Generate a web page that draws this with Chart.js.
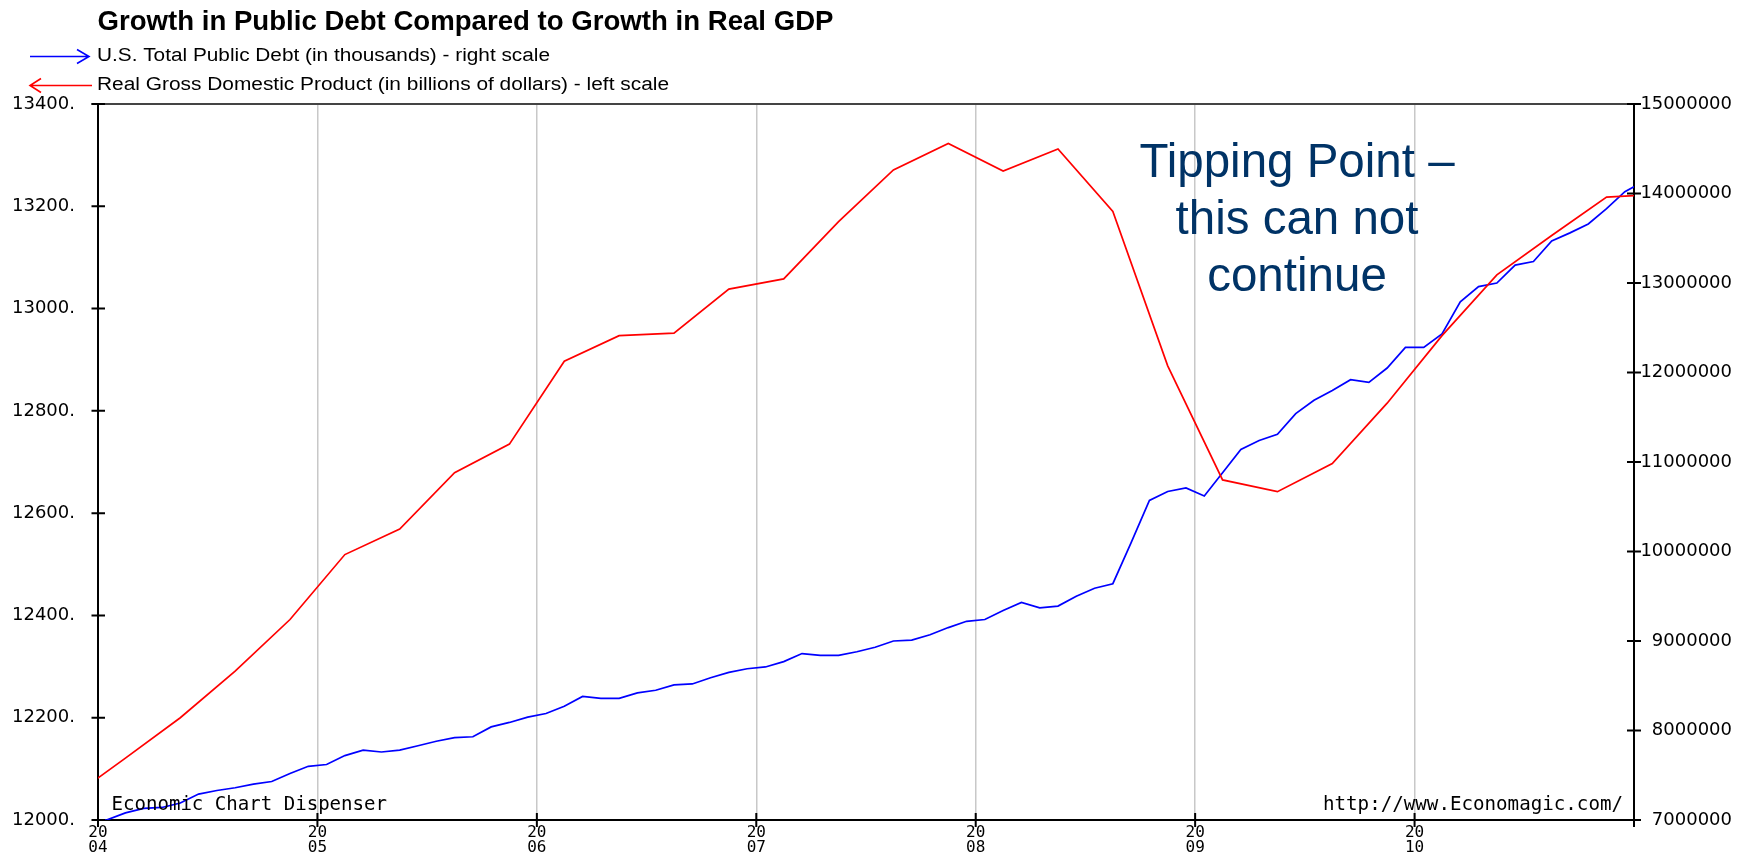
<!DOCTYPE html>
<html>
<head>
<meta charset="utf-8">
<title>Growth in Public Debt Compared to Growth in Real GDP</title>
<script src="https://cdn.jsdelivr.net/npm/chart.js@4.4.1/dist/chart.umd.min.js"></script>
<style>
  html, body { margin: 0; padding: 0; background: #fff; overflow: hidden; }
  canvas { display: block; }
</style>
</head>
<body>
<canvas id="chart" width="1744" height="863"></canvas>
<script>
// Year ticks along the bottom axis
const yearTicks = [2004, 2005, 2006, 2007, 2008, 2009, 2010, 2011];

// Real GDP, billions of chained dollars, quarterly (left scale)
const gdpQuarters = [
  '2003Q4',
  '2004Q1', '2004Q2', '2004Q3', '2004Q4',
  '2005Q1', '2005Q2', '2005Q3', '2005Q4',
  '2006Q1', '2006Q2', '2006Q3', '2006Q4',
  '2007Q1', '2007Q2', '2007Q3', '2007Q4',
  '2008Q1', '2008Q2', '2008Q3', '2008Q4',
  '2009Q1', '2009Q2', '2009Q3', '2009Q4',
  '2010Q1', '2010Q2', '2010Q3', '2010Q4',
  '2011Q1'
];
const gdpValues = [
  12043,
  12121, 12200, 12291, 12392,
  12519, 12569, 12679, 12735,
  12897, 12947, 12952, 13038,
  13058, 13170, 13271, 13323,
  13269, 13312, 13190, 12888,
  12665, 12642, 12697, 12815,
  12947, 13066, 13143, 13218,
  13224
];

// U.S. total public debt outstanding, thousands of dollars, monthly (right scale)
const debtMonths = [
  '2003-12',
  '2004-01', '2004-02', '2004-03', '2004-04', '2004-05', '2004-06', '2004-07', '2004-08', '2004-09', '2004-10', '2004-11', '2004-12',
  '2005-01', '2005-02', '2005-03', '2005-04', '2005-05', '2005-06', '2005-07', '2005-08', '2005-09', '2005-10', '2005-11', '2005-12',
  '2006-01', '2006-02', '2006-03', '2006-04', '2006-05', '2006-06', '2006-07', '2006-08', '2006-09', '2006-10', '2006-11', '2006-12',
  '2007-01', '2007-02', '2007-03', '2007-04', '2007-05', '2007-06', '2007-07', '2007-08', '2007-09', '2007-10', '2007-11', '2007-12',
  '2008-01', '2008-02', '2008-03', '2008-04', '2008-05', '2008-06', '2008-07', '2008-08', '2008-09', '2008-10', '2008-11', '2008-12',
  '2009-01', '2009-02', '2009-03', '2009-04', '2009-05', '2009-06', '2009-07', '2009-08', '2009-09', '2009-10', '2009-11', '2009-12',
  '2010-01', '2010-02', '2010-03', '2010-04', '2010-05', '2010-06', '2010-07', '2010-08', '2010-09', '2010-10', '2010-11', '2010-12',
  '2011-01'
];
const debtValues = [
  6990000,
  7002000, 7080000, 7130000, 7140000, 7190000, 7290000, 7330000, 7360000, 7400000, 7430000, 7520000, 7600000,
  7620000, 7720000, 7780000, 7760000, 7780000, 7830000, 7880000, 7920000, 7930000, 8040000, 8090000, 8150000,
  8190000, 8270000, 8380000, 8360000, 8360000, 8420000, 8450000, 8510000, 8520000, 8590000, 8650000, 8690000,
  8710000, 8770000, 8860000, 8840000, 8840000, 8880000, 8930000, 9000000, 9010000, 9070000, 9150000, 9220000,
  9240000, 9340000, 9430000, 9370000, 9390000, 9500000, 9590000, 9640000, 10100000, 10570000, 10670000, 10710000,
  10620000, 10880000, 11140000, 11240000, 11310000, 11540000, 11690000, 11800000, 11920000, 11890000, 12050000, 12280000,
  12280000, 12430000, 12790000, 12960000, 13000000, 13200000, 13240000, 13470000, 13560000, 13660000, 13830000, 14020000,
  14130000
];

// Axis ranges
const gdpAxis = { min: 12000, max: 13400, step: 200 };
const debtAxis = { min: 7000000, max: 15000000, step: 1000000 };

// Quarterly observations sit at mid-quarter, monthly ones at mid-month
function quarterPos(q) {
  const year = parseInt(q.slice(0, 4), 10);
  const n = parseInt(q.slice(5), 10);
  return year + (n - 1) / 4 + 1 / 8;
}
function monthPos(m) {
  const year = parseInt(m.slice(0, 4), 10);
  const n = parseInt(m.slice(5), 10);
  return year + (n - 1) / 12 + 1 / 24;
}

const gdpPoints = gdpQuarters.map((q, i) => ({ x: quarterPos(q), y: gdpValues[i] }));
const debtPoints = debtMonths.map((m, i) => ({ x: monthPos(m), y: debtValues[i] }));

// Draw text stretched or squeezed horizontally to a given width
function fitText(ctx, text, x, y, width, align) {
  const w = ctx.measureText(text).width;
  const k = width / w;
  ctx.save();
  ctx.translate(x, y);
  ctx.scale(k, 1);
  ctx.textAlign = 'left';
  const ox = align === 'center' ? -w / 2 : (align === 'right' ? -w : 0);
  ctx.fillText(text, ox, 0);
  ctx.restore();
}

const decorations = {
  id: 'decorations',
  afterDraw(chart) {
    const ctx = chart.ctx;
    const a = chart.chartArea;
    const sx = chart.scales.x;
    const yl = chart.scales.yL;
    const yr = chart.scales.yR;
    ctx.save();

    // top edge of the plot frame
    ctx.strokeStyle = '#444';
    ctx.lineWidth = 2;
    ctx.beginPath();
    ctx.moveTo(a.left - 6.5, a.top);
    ctx.lineTo(a.right + 7, a.top);
    ctx.stroke();

    // tick marks crossing each axis line
    ctx.strokeStyle = '#000';
    ctx.lineWidth = 2;
    ctx.beginPath();
    yl.ticks.forEach(t => {
      const y = yl.getPixelForValue(t.value);
      ctx.moveTo(a.left - 6.5, y); ctx.lineTo(a.left + 7, y);
    });
    yr.ticks.forEach(t => {
      const y = yr.getPixelForValue(t.value);
      ctx.moveTo(a.right - 7, y); ctx.lineTo(a.right + 7, y);
    });
    sx.ticks.forEach(t => {
      const x = sx.getPixelForValue(t.value);
      ctx.moveTo(x, a.bottom - 7); ctx.lineTo(x, a.bottom + 7);
    });
    ctx.stroke();

    // title
    ctx.fillStyle = '#000';
    ctx.textBaseline = 'alphabetic';
    ctx.font = 'bold 28px "Liberation Sans", Arial, sans-serif';
    fitText(ctx, 'Growth in Public Debt Compared to Growth in Real GDP', 97.5, 29.5, 736, 'left');

    // legend
    ctx.font = '18px "Liberation Sans", Arial, sans-serif';
    fitText(ctx, 'U.S. Total Public Debt (in thousands) - right scale', 97, 60.5, 453, 'left');
    fitText(ctx, 'Real Gross Domestic Product (in billions of dollars) - left scale', 97, 89.5, 572, 'left');

    ctx.lineWidth = 1.6;
    ctx.strokeStyle = '#0000ff';
    ctx.beginPath();
    ctx.moveTo(30, 56.5); ctx.lineTo(89, 56.5);
    ctx.moveTo(77, 49.5); ctx.lineTo(89, 56.5); ctx.lineTo(77, 63.5);
    ctx.stroke();
    ctx.strokeStyle = '#ff0000';
    ctx.beginPath();
    ctx.moveTo(30, 85.5); ctx.lineTo(92, 85.5);
    ctx.moveTo(41, 78.5); ctx.lineTo(30, 85.5); ctx.lineTo(41, 92.5);
    ctx.stroke();

    // source marks inside the plot
    ctx.fillStyle = '#000';
    ctx.font = '19px "DejaVu Sans Mono", monospace';
    fitText(ctx, 'Economic Chart Dispenser', 111.5, 810, 275.5, 'left');
    fitText(ctx, 'http://www.Economagic.com/', 1623, 810, 300, 'right');

    // callout
    ctx.fillStyle = '#003366';
    ctx.font = '47.5px "Liberation Sans", Arial, sans-serif';
    ctx.textAlign = 'center';
    ctx.fillText('Tipping Point \u2013', 1297, 177);
    ctx.fillText('this can not', 1297, 234);
    ctx.fillText('continue', 1297, 291);

    ctx.restore();
  }
};

new Chart(document.getElementById('chart'), {
  type: 'line',
  data: {
    datasets: [
      {
        label: 'Real Gross Domestic Product (in billions of dollars)',
        data: gdpPoints,
        yAxisID: 'yL',
        borderColor: '#ff0000',
        borderWidth: 1.7,
        pointRadius: 0,
        tension: 0,
        fill: false,
        order: 0
      },
      {
        label: 'U.S. Total Public Debt (in thousands)',
        data: debtPoints,
        yAxisID: 'yR',
        borderColor: '#0000ff',
        borderWidth: 1.7,
        pointRadius: 0,
        tension: 0,
        fill: false,
        order: 1
      }
    ]
  },
  options: {
    responsive: false,
    animation: false,
    devicePixelRatio: 1,
    layout: { autoPadding: false, padding: { top: 104, left: 0, right: 12, bottom: 0 } },
    plugins: {
      legend: { display: false },
      title: { display: false },
      tooltip: { enabled: false }
    },
    scales: {
      x: {
        type: 'linear',
        min: yearTicks[0],
        max: yearTicks[yearTicks.length - 1],
        afterBuildTicks: s => { s.ticks = yearTicks.map(v => ({ value: v })); },
        afterFit: s => { s.height = 43; },
        grid: {
          drawTicks: false,
          lineWidth: 1.5,
          color: c => (c.tick && (c.tick.value === yearTicks[0] || c.tick.value === yearTicks[yearTicks.length - 1])) ? 'rgba(0,0,0,0)' : '#c8c8c8'
        },
        border: { display: true, color: '#000', width: 2 },
        ticks: {
          autoSkip: false,
          maxRotation: 0,
          padding: 5,
          color: '#000',
          font: { family: '"DejaVu Sans Mono", monospace', size: 16, lineHeight: 0.95 },
          callback: v => (v === yearTicks[yearTicks.length - 1]) ? '' : ['20', String(v).slice(2)]
        }
      },
      yL: {
        type: 'linear',
        position: 'left',
        min: gdpAxis.min,
        max: gdpAxis.max,
        afterFit: s => { s.width = 98; },
        grid: { drawOnChartArea: false, drawTicks: false },
        border: { display: true, color: '#000', width: 2 },
        ticks: {
          stepSize: gdpAxis.step,
          padding: 23,
          color: '#000',
          font: { family: '"DejaVu Sans", sans-serif', size: 18 },
          callback: v => v + '.'
        }
      },
      yR: {
        type: 'linear',
        position: 'right',
        min: debtAxis.min,
        max: debtAxis.max,
        afterFit: s => { s.width = 98; },
        grid: { drawOnChartArea: false, drawTicks: false },
        border: { display: true, color: '#000', width: 2 },
        ticks: {
          stepSize: debtAxis.step,
          padding: 6,
          crossAlign: 'far',
          color: '#000',
          font: { family: '"DejaVu Sans", sans-serif', size: 18 },
          callback: v => String(v)
        }
      }
    }
  },
  plugins: [decorations]
});
</script>
</body>
</html>
